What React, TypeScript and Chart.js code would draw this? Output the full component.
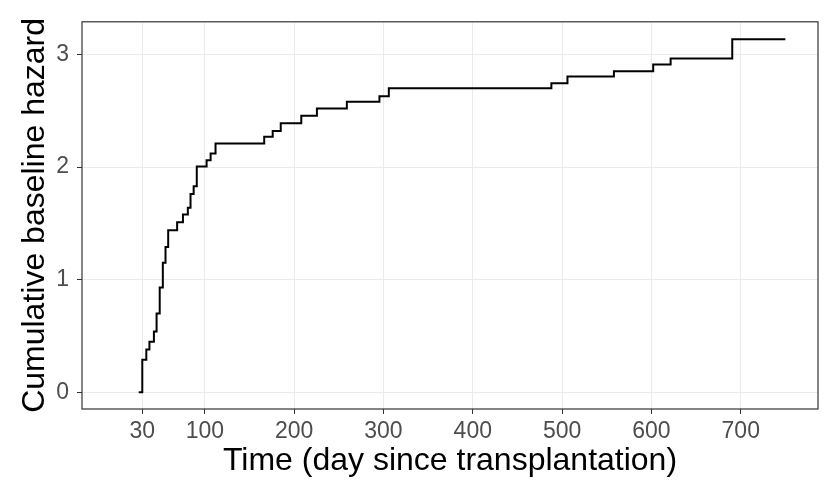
import React, { useEffect, useRef } from "react";
import { Chart, registerables } from "chart.js";

Chart.register(...registerables);

const times = [26, 30, 34.5, 38, 43, 46, 49.5, 53, 56, 59, 69, 75.5, 81, 84, 87.5, 91, 102, 106.5, 112, 166.5, 176, 185, 208, 225.5, 259, 295.5, 306, 488, 506, 558, 602, 621.5, 690.5, 750];
const hazard = [0, 0.29, 0.38, 0.45, 0.54, 0.7, 0.93, 1.15, 1.29, 1.44, 1.51, 1.58, 1.64, 1.76, 1.83, 2.005, 2.06, 2.12, 2.21, 2.27, 2.32, 2.39, 2.455, 2.52, 2.58, 2.63, 2.7, 2.745, 2.805, 2.85, 2.91, 2.965, 3.135, 3.135];
const xTicks = [30, 100, 200, 300, 400, 500, 600, 700];
const yTicks = [0, 1, 2, 3];

const FONT = "'Liberation Sans', Arial, Helvetica, sans-serif";

const panelBorder = {
  id: "panelBorder",
  afterDatasetsDraw(chart: any) {
    const { ctx, chartArea } = chart;
    ctx.save();
    ctx.strokeStyle = "#333333";
    ctx.lineWidth = 1.2;
    ctx.strokeRect(chartArea.left, chartArea.top, chartArea.right - chartArea.left, chartArea.bottom - chartArea.top);
    ctx.restore();
  },
};

export default function App() {
  const ref = useRef<HTMLCanvasElement>(null);
  useEffect(() => {
    if (!ref.current) return;
    const data = times.map((t, i) => ({ x: t, y: hazard[i] }));
    const chart = new Chart(ref.current, {
      type: "line",
      data: {
        datasets: [
          {
            data,
            stepped: "before",
            borderColor: "#000000",
            borderWidth: 2,
            pointRadius: 0,
            fill: false,
          },
        ],
      },
      options: {
        responsive: false,
        animation: false,
        layout: { padding: { top: 6, right: 5, left: 0, bottom: 0 } },
        plugins: { legend: { display: false }, tooltip: { enabled: false } },
        scales: {
          x: {
            type: "linear",
            min: -37.5,
            max: 786.5,
            afterBuildTicks: (axis: any) => {
              axis.ticks = xTicks.map((v) => ({ value: v }));
            },
            afterFit: (axis: any) => {
              axis.height = 72;
            },
            grid: { color: "#ebebeb", lineWidth: 1, tickColor: "#333333", tickLength: 5 },
            border: { display: false },
            ticks: { font: { family: FONT, size: 23 }, color: "#4d4d4d", padding: 4, maxRotation: 0, autoSkip: false },
            title: {
              display: true,
              text: "Time (day since transplantation)",
              font: { family: FONT, size: 32, lineHeight: 1 },
              color: "#000000",
              padding: { top: 0, bottom: 4 },
            },
          },
          y: {
            type: "linear",
            min: -0.148,
            max: 3.29,
            afterBuildTicks: (axis: any) => {
              axis.ticks = yTicks.map((v) => ({ value: v }));
            },
            afterFit: (axis: any) => {
              axis.width = 82;
            },
            grid: { color: "#ebebeb", lineWidth: 1, tickColor: "#333333", tickLength: 5 },
            border: { display: false },
            ticks: { font: { family: FONT, size: 23 }, color: "#4d4d4d", padding: 8 },
            title: {
              display: true,
              text: "Cumulative baseline hazard",
              font: { family: FONT, size: 32, lineHeight: 1 },
              color: "#000000",
              padding: { top: 19, bottom: 0 },
            },
          },
        },
      },
      plugins: [panelBorder],
    });
    return () => chart.destroy();
  }, []);
  return (
    <div style={{ position: "absolute", left: 0, top: 0, width: 823, height: 481, background: "#ffffff" }}>
      <canvas ref={ref} width={823} height={481} />
    </div>
  );
}
